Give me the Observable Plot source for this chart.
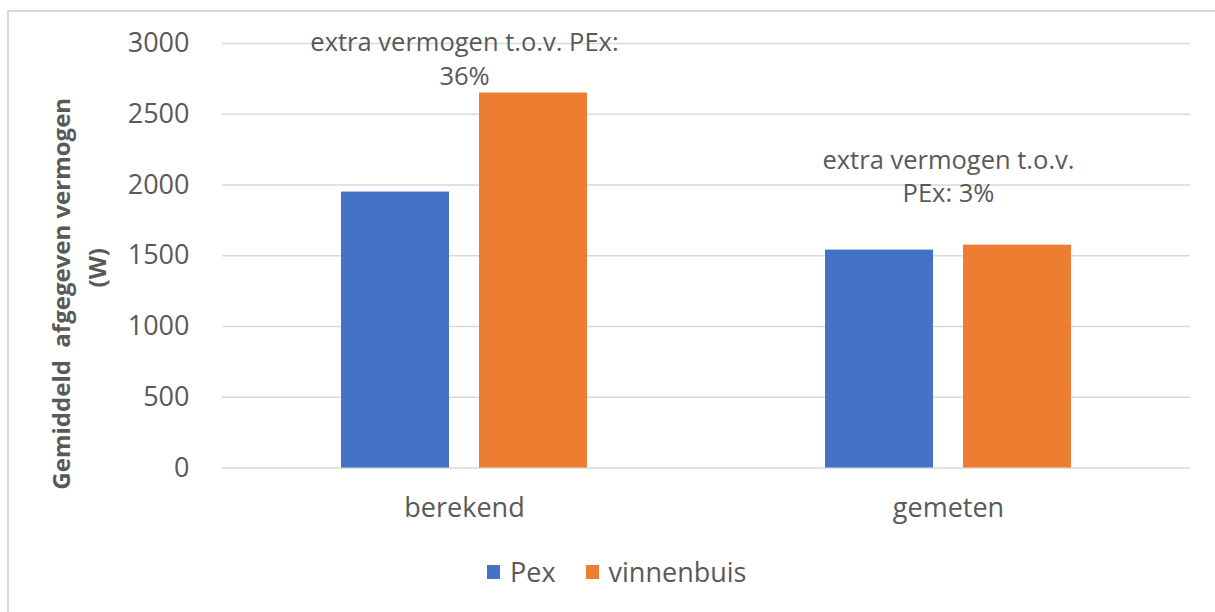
<!DOCTYPE html>
<html>
<head>
<meta charset="utf-8">
<script src="https://cdn.jsdelivr.net/npm/d3@7"></script>
<script src="https://cdn.jsdelivr.net/npm/@observablehq/plot@0.6"></script>
<style>
  html, body { margin: 0; padding: 0; background: #fff; }
  body { width: 1215px; height: 612px; position: relative; overflow: hidden; font-family: "Open Sans", Lato, sans-serif; }
  #frame { position: absolute; left: 7px; top: 10px; width: 1220px; height: 700px; border-left: 2px solid #d9d9d9; border-top: 2px solid #d9d9d9; box-sizing: border-box; }
  #chart { position: absolute; left: 0; top: 0; }
  #legend { position: absolute; left: 487px; top: 553px; display: flex; align-items: center; font-size: 27px; color: #595959; }
  #legend .item { display: flex; align-items: center; margin-right: 30px; }
  #legend .sw { width: 13px; height: 14px; margin-right: 10px; }
</style>
</head>
<body>
<div id="frame"></div>
<div id="chart"></div>
<div id="legend"></div>
<script>
// ---- data ----
const categories = ["berekend", "gemeten"];
const series = ["Pex", "vinnenbuis"];
const pexValues = [1950, 1540];
const vinnenbuisValues = [2650, 1575];
const yTicks = [0, 500, 1000, 1500, 2000, 2500, 3000];
const annotCategories = ["berekend", "gemeten"];
const annotTexts = ["extra vermogen t.o.v. PEx:\n36%", "extra vermogen t.o.v.\nPEx: 3%"];
const annotY = [3000, 2170];
const seriesColors = ["#4472C4", "#ED7D31"];

const data = categories.flatMap((c, i) => [
  {category: c, series: series[0], value: pexValues[i]},
  {category: c, series: series[1], value: vinnenbuisValues[i]}
]);
const annots = annotCategories.map((c, i) => ({category: c, text: annotTexts[i], y: annotY[i]}));

const textColor = "#595959";
const W = 1215, H = 540;

const chart = Plot.plot({
  width: W,
  height: H,
  marginLeft: 222,
  marginRight: 25,
  marginTop: 43,
  marginBottom: H - 467.5,
  style: {fontFamily: "'Open Sans', Lato, sans-serif", background: "transparent"},
  fx: {domain: categories, padding: 0, label: null},
  x: {domain: series, paddingInner: 0.217, paddingOuter: 0.862, axis: null},
  y: {domain: [0, 3000], label: null},
  color: {domain: series, range: seriesColors},
  marks: [
    Plot.ruleY(yTicks, {stroke: "#d9d9d9", strokeWidth: 1.5}),
    Plot.barY(data, {fx: "category", x: "series", y: "value", fill: "series"}),
    Plot.axisY({ticks: yTicks, tickFormat: d3.format("d"), tickSize: 0, tickPadding: 33, fontSize: 27, fill: textColor, label: null}),
    Plot.axisFx({anchor: "bottom", tickSize: 0, tickPadding: 30, fontSize: 27, fill: textColor, label: null}),
    Plot.text(annots, {fx: "category", y: "y", text: "text", fontSize: 25.5, fill: textColor, lineAnchor: "top", dy: -16, lineHeight: 1.32}),
    Plot.text([{category: "berekend"}], {fx: "category", frameAnchor: "left", textAnchor: "middle", text: () => "Gemiddeld  afgegeven vermogen", rotate: -90, dx: -160, dy: 38, fontSize: 24, fontWeight: "bold", fill: textColor}),
    Plot.text([{category: "berekend"}], {fx: "category", frameAnchor: "left", textAnchor: "middle", text: () => "(W)", rotate: -90, dx: -124, dy: 12, fontSize: 24, fontWeight: "bold", fill: textColor})
  ]
});
document.getElementById("chart").appendChild(chart);

const legend = document.getElementById("legend");
series.forEach((s, i) => {
  const item = document.createElement("div");
  item.className = "item";
  const sw = document.createElement("div");
  sw.className = "sw";
  sw.style.background = seriesColors[i];
  const label = document.createElement("span");
  label.textContent = s;
  item.appendChild(sw);
  item.appendChild(label);
  legend.appendChild(item);
});
</script>
</body>
</html>
